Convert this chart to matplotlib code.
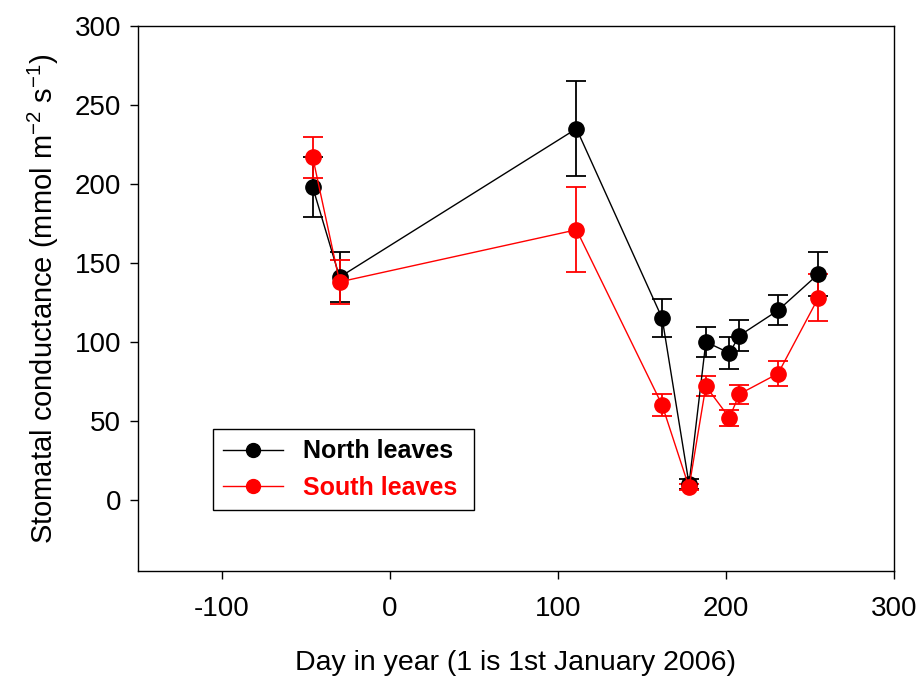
import matplotlib
matplotlib.use("Agg")
import matplotlib.pyplot as plt
from matplotlib.lines import Line2D

plt.rcParams['font.family'] = ['Liberation Sans', 'DejaVu Sans']
plt.rcParams['mathtext.default'] = 'regular'
plt.rcParams['axes.unicode_minus'] = False

days = [-46, -30, 111, 162, 178, 188, 202, 208, 231, 255]
north = [198, 141, 235, 115, 10, 100, 93, 104, 120, 143]
north_err = [19, 16, 30, 12, 3, 9.5, 10, 10, 9.5, 14]
south = [217, 138, 171, 60, 8, 72, 52, 67, 80, 128]
south_err = [13, 14, 27, 7, 2, 6.5, 5, 6, 7.7, 15]

fig = plt.figure(figsize=(9.21, 6.77), dpi=100)
ax = fig.add_axes([0.1498, 0.1566, 0.8209, 0.805])

ax.errorbar(days, north, yerr=north_err, color='black', marker='o', markersize=11,
            linewidth=1, elinewidth=1.3, capsize=7, capthick=1.3)
ax.errorbar(days, south, yerr=south_err, color='red', marker='o', markersize=11,
            linewidth=1, elinewidth=1.3, capsize=7, capthick=1.3)

ax.set_xlim(-150, 300)
ax.set_ylim(-45, 300)
ax.set_xticks([-100, 0, 100, 200, 300])
ax.set_yticks([0, 50, 100, 150, 200, 250, 300])
ax.tick_params(direction='out', length=6, width=1, labelsize=20, pad=6, top=False, right=False)
ax.tick_params(axis='x', pad=12)
for s in ax.spines.values():
    s.set_linewidth(1)

ax.set_xlabel('Day in year (1 is 1st January 2006)', fontsize=20.5, labelpad=20)
ax.set_ylabel('Stomatal conductance (mmol m$^{-2}$ s$^{-1}$)', fontsize=21, labelpad=10)

handles = [Line2D([], [], color='black', marker='o', markersize=10, linewidth=1),
           Line2D([], [], color='red', marker='o', markersize=10, linewidth=1)]
leg = ax.legend(handles, ['North leaves', 'South leaves'], loc='lower left',
                bbox_to_anchor=(0.099, 0.112, 0.345, 0.174), mode='expand',
                prop={'weight': 'bold', 'size': 18}, fancybox=False, edgecolor='black',
                handlelength=2.4, borderaxespad=0, framealpha=1, labelspacing=0.5)
leg.get_frame().set_linewidth(1)
for t, c in zip(leg.get_texts(), ['black', 'red']):
    t.set_color(c)

fig.savefig('out.png', dpi=100)
